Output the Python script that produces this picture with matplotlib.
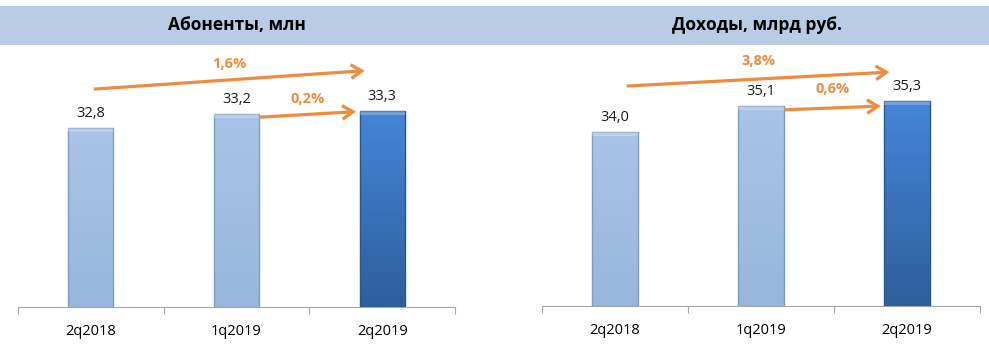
import numpy as np
import matplotlib
matplotlib.use('Agg')
import matplotlib.pyplot as plt
from matplotlib.patches import Rectangle, FancyArrowPatch

plt.rcParams['font.family'] = ['Open Sans', 'DejaVu Sans']

quarters = ['2q2018', '1q2019', '2q2019']
subs = [32.8, 33.2, 33.3]
subs_labels = ['32,8', '33,2', '33,3']
subs_growth = ['1,6%', '0,2%']
rev = [34.0, 35.1, 35.3]
rev_labels = ['34,0', '35,1', '35,3']
rev_growth = ['3,8%', '0,6%']
titles = ['Абоненты, млн', 'Доходы, млрд руб.']

ORANGE = '#F08A3C'
W, H = 989, 358


def gradient_bar(ax, x, v, bottom, width, c_top, c_bot, edge):
    grad = np.linspace(0, 1, 100).reshape(-1, 1)
    cmap = matplotlib.colors.LinearSegmentedColormap.from_list('g', [c_bot, c_top])
    im = ax.imshow(grad, cmap=cmap, aspect='auto', origin='lower',
                   extent=(x - width / 2, x + width / 2, bottom, v), zorder=2)
    rect = Rectangle((x - width / 2, bottom), width, v - bottom,
                     facecolor='none', edgecolor=edge, lw=1.0, zorder=3)
    ax.add_patch(rect)
    im.set_clip_path(rect)
    # light bevel on top
    ax.add_patch(Rectangle((x - width / 2, v - (v - bottom) * 0.02), width,
                           (v - bottom) * 0.02, facecolor='white', alpha=0.25,
                           lw=0, zorder=4))


def px(ax, x, v, dy=0):
    # data -> display pixels, dy pixels upward
    X, Y = ax.transData.transform((x, v))
    return (X, Y + dy)


def panel(ax, vals, labels, ylo, yhi):
    ax.set_xlim(-0.5, 2.5)
    ax.set_ylim(ylo, yhi)
    for i, v in enumerate(vals):
        if i < 2:
            gradient_bar(ax, i, v, ylo, 0.31, '#A9C4E6', '#98B6DC', '#7F9CC2')
        else:
            gradient_bar(ax, i, v, ylo, 0.31, '#4586D8', '#2E5E9C', '#2B568E')
        ax.annotate(labels[i], (i, v), xytext=(0, 5), textcoords='offset points',
                    ha='center', va='bottom', fontsize=10.5, color='#1a1a1a')
    for s in ['top', 'right', 'left']:
        ax.spines[s].set_visible(False)
    ax.spines['bottom'].set_color('#A6A6A6')
    ax.set_yticks([])
    ax.set_xticks([-0.5, 0.5, 1.5, 2.5])
    ax.set_xticklabels([])
    ax.tick_params(axis='x', length=5, color='#A6A6A6', direction='out')
    ax.set_xticks([0, 1, 2], minor=True)
    ax.set_xticklabels(quarters, minor=True, fontsize=10.5)
    ax.tick_params(axis='x', which='minor', length=0, pad=12)
    ax.patch.set_alpha(0)


fig = plt.figure(figsize=(W / 100, H / 100), dpi=100)
fig.patches.append(Rectangle((0, 1 - 45 / H), 1, 39 / H, transform=fig.transFigure,
                             facecolor='#B8CCE4', edgecolor='none', zorder=0))
fig.text(237 / W, 1 - 25.5 / H, titles[0], ha='center', va='center',
         fontsize=12.5, fontweight='bold')
fig.text(757 / W, 1 - 25.5 / H, titles[1], ha='center', va='center',
         fontsize=12.5, fontweight='bold')

ax1 = fig.add_axes([18 / W, 1 - 307 / H, 437 / W, 262 / H])
ax2 = fig.add_axes([542 / W, 1 - 306 / H, 438 / W, 261 / H])
panel(ax1, subs, subs_labels, 27.69, 27.69 + 262 / 35)
panel(ax2, rev, rev_labels, 26.69, 26.69 + 261 / 23.8)


def arrows(ax, vals, growth, big_x0, big_dy, small_dy, lab_dy):
    props = dict(arrowstyle='->,head_length=0.55,head_width=0.35', color=ORANGE,
                 lw=2.3, mutation_scale=14, shrinkA=0, shrinkB=0,
                 joinstyle='miter', capstyle='butt')
    for k, (x0, x1, i0, dy) in enumerate([(big_x0, 1.88, 0, big_dy),
                                          (1.16, 1.82, 1, small_dy)]):
        s = px(ax, x0, vals[i0], dy[0])
        e = px(ax, x1, vals[2], dy[1])
        fig.add_artist(FancyArrowPatch(s, e, transform=None, **props))
        fig.text((s[0] + e[0]) / 2 / W, ((s[1] + e[1]) / 2 + lab_dy[k]) / H,
                 growth[k], ha='center', va='center', color=ORANGE,
                 fontsize=10.5, fontweight='bold')


fig.canvas.draw()
arrows(ax1, subs, subs_growth, 0.02, (39, 40), (-3, -1), (15.5, 15.5))
arrows(ax2, rev, rev_growth, 0.08, (46, 29), (-4, -5), (18, 19))

fig.savefig('out.png', dpi=100)
